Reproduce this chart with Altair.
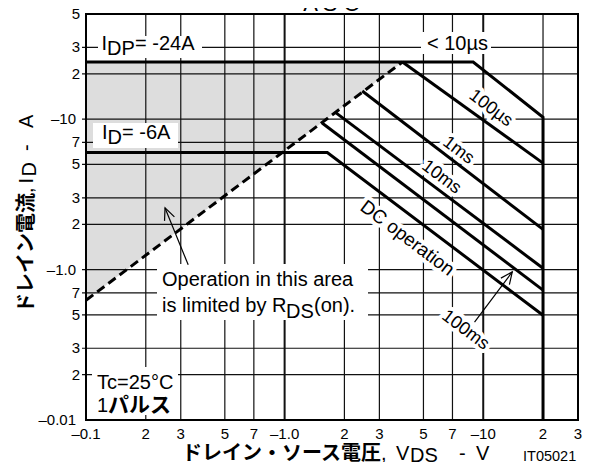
import altair as alt
import pandas as pd

# ---------------- data ----------------
x_ticks = [0.1, 0.2, 0.3, 0.5, 0.7, 1, 2, 3, 5, 7, 10, 20, 30]
x_tick_labels = ["–0.1", "2", "3", "5", "7", "–1.0", "2", "3", "5", "7", "–10", "2", "3"]
y_ticks = [0.1, 0.2, 0.3, 0.5, 0.7, 1, 2, 3, 5, 7, 10, 20, 30, 50]
y_tick_labels = ["–0.01", "2", "3", "5", "7", "–1.0", "2", "3", "5", "7", "–10", "2", "3", "5"]

# SOA boundary: IDP plateau, <10us line, VDSS limit
limit_v = [0.1, 8.9, 20, 20]
limit_i = [24, 24, 10.3, 0.1]
us100_v = [3.92, 20]
us100_i = [24, 5.1]
ms1_v = [2.46, 20]
ms1_i = [15.4, 1.85]
ms10_v = [1.80, 20]
ms10_i = [11.1, 1.02]
ms100_v = [1.55, 20]
ms100_i = [9.4, 0.73]
dc_v = [0.1, 1.64, 20]
dc_i = [6, 6, 0.497]
# RDS(on) limit (dashed) and shaded region
rds_v = [0.1, 3.92]
rds_i = [0.625, 24]

curve_label_text = ["100µs", "1ms", "10ms", "DC operation", "100ms"]
curve_label_v = [10.9, 7.5, 6.16, 4.15, 8.13]
curve_label_i = [11.8, 6.2, 4.11, 1.62, 0.395]
curve_label_size = [18, 18, 18, 19, 18]

arrow_tail_v = [0.327, 9.04]
arrow_tail_i = [1.075, 0.448]
arrow_tip_v = [0.250, 14.0]
arrow_tip_i = [2.57, 0.965]
arrow_angle = [338, 37]

# ---------------- layout ----------------
OX, OY = 86, 14
W, H = 492, 406
LAT = "Liberation Sans"
CJK = "Noto Sans CJK JP"

xs = alt.Scale(type="log", domain=[0.1, 30], nice=False)
ys = alt.Scale(type="log", domain=[0.1, 50], nice=False)

ONE = alt.Data(values=[{"a": 1}])

layers = []

# shaded area limited by RDS(on)
gray_df = pd.DataFrame({"v": rds_v, "lo": rds_i, "hi": [rds_i[-1]] * len(rds_v)})
layers.append(alt.Chart(gray_df).mark_area(color="#dddddd", opacity=1).encode(
    x=alt.X("v:Q", scale=xs, axis=None),
    y=alt.Y("lo:Q", scale=ys, axis=None),
    y2="hi:Q"))

# grid
vg = pd.DataFrame({"v": x_ticks[1:-1], "w": [2.0 if v in (1, 10) else 1.2 for v in x_ticks[1:-1]]})
layers.append(alt.Chart(vg).mark_rule(color="#111111").encode(
    x=alt.X("v:Q", scale=xs, axis=None),
    strokeWidth=alt.StrokeWidth("w:Q", scale=None, legend=None)))
hg = pd.DataFrame({"i": y_ticks[1:-1]})
layers.append(alt.Chart(hg).mark_rule(color="#111111", strokeWidth=1.2).encode(
    y=alt.Y("i:Q", scale=ys, axis=None),
    x=alt.value(-4), x2=alt.value(W)))

# tick labels (through the scales)
xl = pd.DataFrame({"v": x_ticks, "t": x_tick_labels})
layers.append(alt.Chart(xl).mark_text(font=LAT, fontSize=15, baseline="top", align="center",
                                      color="black").encode(
    x=alt.X("v:Q", scale=xs, axis=None), y=alt.value(H + 7), text="t:N"))
yl = pd.DataFrame({"i": y_ticks, "t": y_tick_labels})
yl_short = yl[yl["t"].str.len() == 1]
yl_long = yl[yl["t"].str.len() > 1]
layers.append(alt.Chart(yl_short).mark_text(font=LAT, fontSize=15, baseline="middle", align="right",
                                            color="black").encode(
    y=alt.Y("i:Q", scale=ys, axis=None), x=alt.value(-6), text="t:N"))
layers.append(alt.Chart(yl_long).mark_text(font=LAT, fontSize=15, baseline="middle", align="right",
                                           color="black").encode(
    y=alt.Y("i:Q", scale=ys, axis=None), x=alt.value(-10), text="t:N"))


def box(x1, y1, x2, y2):
    return alt.Chart(ONE).mark_rect(color="white", opacity=1).encode(
        x=alt.value(x1 - OX), x2=alt.value(x2 - OX),
        y=alt.value(y1 - OY), y2=alt.value(y2 - OY))


# white label boxes
layers += [box(98, 36, 202, 58), box(421, 32, 491, 54), box(93, 123, 178, 148),
           box(157, 264, 368, 320), box(92, 367, 178, 415)]

# halos for rotated labels
cl = pd.DataFrame({"t": curve_label_text, "v": curve_label_v, "i": curve_label_i, "fs": curve_label_size})
layers.append(alt.Chart(cl).mark_text(angle=37, align="center", baseline="middle", font=LAT,
                                      color="white", stroke="white", strokeWidth=8,
                                      strokeJoin="round").encode(
    x=alt.X("v:Q", scale=xs, axis=None), y=alt.Y("i:Q", scale=ys, axis=None),
    text="t:N", size=alt.Size("fs:Q", scale=None, legend=None)))

# curves
rows = []
for name, vs, is_ in [("limit", limit_v, limit_i), ("100us", us100_v, us100_i),
                      ("1ms", ms1_v, ms1_i), ("10ms", ms10_v, ms10_i),
                      ("100ms", ms100_v, ms100_i), ("dc", dc_v, dc_i)]:
    for k, (v, i) in enumerate(zip(vs, is_)):
        rows.append({"s": name, "v": v, "i": i, "k": k})
layers.append(alt.Chart(pd.DataFrame(rows)).mark_line(color="black", strokeWidth=3,
                                                      strokeJoin="miter", strokeCap="butt").encode(
    x=alt.X("v:Q", scale=xs, axis=None), y=alt.Y("i:Q", scale=ys, axis=None),
    detail="s:N", order="k:Q"))

layers.append(alt.Chart(pd.DataFrame({"v": rds_v, "i": rds_i})).mark_line(
    color="black", strokeWidth=3, strokeDash=[9, 5]).encode(
    x=alt.X("v:Q", scale=xs, axis=None), y=alt.Y("i:Q", scale=ys, axis=None)))

# rotated curve labels
layers.append(alt.Chart(cl).mark_text(angle=37, align="center", baseline="middle", font=LAT,
                                      color="black").encode(
    x=alt.X("v:Q", scale=xs, axis=None), y=alt.Y("i:Q", scale=ys, axis=None),
    text="t:N", size=alt.Size("fs:Q", scale=None, legend=None)))

# arrows
arows = []
for n in range(len(arrow_tip_v)):
    arows.append({"a": n, "v": arrow_tail_v[n], "i": arrow_tail_i[n], "k": 0})
    arows.append({"a": n, "v": arrow_tip_v[n], "i": arrow_tip_i[n], "k": 1})
layers.append(alt.Chart(pd.DataFrame(arows)).mark_line(color="black", strokeWidth=1.2).encode(
    x=alt.X("v:Q", scale=xs, axis=None), y=alt.Y("i:Q", scale=ys, axis=None),
    detail="a:N", order="k:Q"))
heads = pd.DataFrame({"v": arrow_tip_v, "i": arrow_tip_i, "ang": arrow_angle})
layers.append(alt.Chart(heads).mark_point(shape="M -0.45 1 L 0 0 L 0.45 1", filled=False,
                                         size=560, strokeWidth=1.2, color="black", opacity=1).encode(
    x=alt.X("v:Q", scale=xs, axis=None), y=alt.Y("i:Q", scale=ys, axis=None),
    angle=alt.Angle("ang:Q", scale=None)))


def txt(s, x, y, size=20, weight="normal", font=LAT, align="left", baseline="alphabetic", angle=0):
    return alt.Chart(ONE).mark_text(text=s, font=font, fontSize=size, fontWeight=weight,
                                    align=align, baseline=baseline, angle=angle,
                                    color="black").encode(
        x=alt.value(x - OX), y=alt.value(y - OY))


XT = 459.5  # baseline of x-axis title
texts = [
    txt("A S O", 332, 10.5, size=22, align="center"),
    # IDP
    txt("I", 101.5, 50), txt("DP", 107, 55), txt("= -24A", 135, 50),
    txt("< 10µs", 427, 50),
    # ID
    txt("I", 102, 139), txt("D", 107.5, 144), txt("= -6A", 122, 139),
    # RDS(on) note
    txt("Operation in this area", 162, 286),
    txt("is limited by R", 162, 312), txt("DS", 286, 318), txt("(on).", 314, 312),
    # conditions
    txt("Tc=25°C", 97, 389), txt("1", 97, 412), txt("パルス", 108, 412, size=21, weight="bold", font=CJK),
    # y title (rotated)
    txt("ドレイン電流", 32.5, 313, weight="bold", font=CJK, angle=270),
    txt(",", 32.5, 193, angle=270), txt("I", 32.5, 183.5, angle=270),
    txt("D", 35.5, 176.5, angle=270), txt("-", 32.5, 151, angle=270), txt("A", 32.5, 128, angle=270),
    # x title
    txt("ドレイン・ソース電圧", 182, XT, weight="bold", font=CJK),
    txt(",", 381, XT), txt("V", 396, XT), txt("DS", 410, XT + 2.5), txt("-", 459, XT), txt("V", 476, XT),
    txt("IT05021", 523, XT + 1, size=14.5),
]
layers += texts

# plot border (on top)
layers.append(alt.Chart(ONE).mark_rect(filled=False, stroke="black", strokeWidth=2).encode(
    x=alt.value(0), x2=alt.value(W), y=alt.value(0), y2=alt.value(H)))

chart = alt.layer(*layers).properties(
    width=W, height=H,
    padding={"left": 78, "top": 6, "right": 12, "bottom": 42},
    autosize=alt.AutoSizeParams(type="none"),
    background="white",
).configure_view(stroke="transparent")

chart.save("out.html", embed_options={"renderer": "svg", "actions": False})
